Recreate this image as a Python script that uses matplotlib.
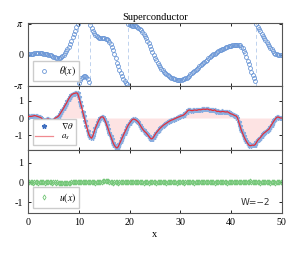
import numpy as np
import matplotlib
matplotlib.use("Agg")
import matplotlib.pyplot as plt

# data (x step 0.25)
# -------------------------------------------------------------------
x = np.arange(0, 50.001, 0.25)

theta = [
    0.05, 0.06, 0.08, 0.10, 0.12, 0.14, 0.16, 0.17, 0.18, 0.18, 0.17, 0.15, 0.12, 0.09, 0.06, 0.03, 0.00, -0.03, -0.07, -0.13,
    -0.20, -0.28, -0.34, -0.37, -0.37, -0.33, -0.26, -0.15, -0.01, 0.16, 0.36, 0.58, 0.82, 1.10, 1.42, 1.76, 2.10, 2.45, 2.80, 3.12,
    -2.90, -2.60, -2.40, -2.27, -2.20, -2.20, -2.30, -2.52, -2.82, 3.00, 2.68, 2.40, 2.18, 2.00, 1.86, 1.76, 1.70, 1.67, 1.66, 1.66,
    1.66, 1.64, 1.58, 1.47, 1.30, 1.06, 0.77, 0.44, 0.05, -0.37, -0.80, -1.20, -1.56, -1.88, -2.17, -2.43, -2.65, -2.84, -3.00, 3.12,
    3.05, 2.99, 2.96, 2.94, 2.91, 2.87, 2.82, 2.75, 2.64, 2.50, 2.33, 2.13, 1.91, 1.67, 1.42, 1.15, 0.86, 0.56, 0.26, -0.03,
    -0.31, -0.57, -0.81, -1.03, -1.23, -1.41, -1.58, -1.73, -1.87, -1.99, -2.10, -2.20, -2.29, -2.36, -2.42, -2.47, -2.51, -2.54, -2.56, -2.57,
    -2.57, -2.55, -2.52, -2.47, -2.41, -2.33, -2.23, -2.12, -2.01, -1.90, -1.79, -1.67, -1.55, -1.43, -1.31, -1.19, -1.07, -0.95, -0.83, -0.71,
    -0.60, -0.49, -0.38, -0.27, -0.17, -0.07, 0.03, 0.12, 0.20, 0.28, 0.36, 0.43, 0.50, 0.57, 0.63, 0.69, 0.74, 0.79, 0.84, 0.88,
    0.92, 0.95, 0.97, 0.99, 1.00, 1.01, 1.00, 0.94, 0.82, 0.65, 0.42, 0.13, -0.22, -0.60, -0.98, -1.37, -1.75, -2.10, -2.42, -2.72,
    3.12, 2.85, 2.60, 2.37, 2.15, 1.93, 1.72, 1.50, 1.30, 1.10, 0.90, 0.72, 0.55, 0.38, 0.22, 0.10, 0.03, 0.00, -0.01, -0.01,
    0.00,
]

grad_theta = [
    0.08, 0.10, 0.09, 0.10, 0.12, 0.14, 0.13, 0.10, 0.08, 0.05, 0.03, -0.05, -0.12, -0.16, -0.12, -0.06, -0.05, -0.10, -0.15, -0.16,
    -0.10, -0.03, 0.02, 0.06, 0.12, 0.22, 0.34, 0.46, 0.58, 0.72, 0.84, 0.98, 1.12, 1.24, 1.34, 1.40, 1.43, 1.45, 1.47, 1.44,
    1.22, 0.95, 0.68, 0.38, 0.10, -0.20, -0.48, -0.75, -0.98, -1.12, -1.18, -1.05, -0.82, -0.60, -0.42, -0.25, -0.10, 0.02, 0.07, 0.06,
    -0.05, -0.22, -0.42, -0.62, -0.85, -1.05, -1.25, -1.45, -1.60, -1.70, -1.75, -1.68, -1.52, -1.35, -1.18, -1.00, -0.85, -0.70, -0.55, -0.40,
    -0.30, -0.20, -0.10, -0.06, -0.08, -0.12, -0.18, -0.25, -0.38, -0.50, -0.62, -0.72, -0.80, -0.86, -0.95, -1.05, -1.15, -1.22, -1.20, -1.10,
    -0.98, -0.86, -0.78, -0.68, -0.60, -0.53, -0.46, -0.40, -0.35, -0.30, -0.25, -0.20, -0.16, -0.12, -0.10, -0.06, -0.03, 0.01, 0.04, 0.07,
    0.10, 0.13, 0.15, 0.20, 0.27, 0.35, 0.44, 0.47, 0.45, 0.43, 0.44, 0.47, 0.46, 0.45, 0.48, 0.49, 0.48, 0.50, 0.52, 0.51,
    0.50, 0.53, 0.51, 0.47, 0.49, 0.45, 0.44, 0.48, 0.42, 0.38, 0.40, 0.37, 0.36, 0.39, 0.38, 0.36, 0.35, 0.37, 0.33, 0.28,
    0.24, 0.22, 0.18, 0.14, 0.12, 0.02, -0.22, -0.48, -0.70, -0.88, -1.06, -1.22, -1.36, -1.48, -1.58, -1.62, -1.60, -1.58, -1.60, -1.55,
    -1.42, -1.30, -1.22, -1.15, -1.05, -0.95, -0.88, -0.82, -0.76, -0.70, -0.64, -0.50, -0.38, -0.26, -0.14, -0.04, 0.04, 0.06, 0.03, 0.00,
    0.00,
]
a_s = grad_theta  # supercurrent follows the phase gradient

u = [
    0.01, 0.02, 0.00, 0.01, -0.01, 0.01, 0.02, 0.00, -0.01, 0.01, 0.02, 0.01, 0.00, -0.01, 0.01, 0.00, 0.01, 0.02, 0.00, -0.01,
    0.00, 0.01, -0.01, 0.00, -0.02, -0.01, -0.03, -0.02, -0.03, -0.04, -0.05, -0.03, -0.02, -0.01, 0.00, 0.01, 0.02, 0.01, 0.02, 0.03,
    0.02, 0.03, 0.02, 0.01, 0.02, 0.03, 0.02, 0.01, 0.00, 0.01, 0.02, 0.01, 0.00, -0.01, 0.00, 0.01, 0.02, 0.03, 0.04, 0.05,
    0.06, 0.08, 0.07, 0.05, 0.03, 0.01, 0.00, -0.01, 0.00, 0.01, 0.00, -0.01, 0.01, 0.00, 0.01, 0.02, 0.01, 0.00, 0.02, 0.03,
    0.02, 0.01, 0.02, 0.03, 0.02, 0.01, 0.00, 0.01, 0.02, 0.01, 0.00, -0.01, 0.00, 0.01, 0.00, -0.01, 0.00, 0.01, 0.00, 0.01,
    0.00, -0.01, 0.00, 0.01, 0.02, 0.01, 0.00, 0.01, 0.00, -0.01, 0.00, 0.01, 0.00, 0.01, 0.02, 0.01, 0.00, -0.01, 0.00, 0.01,
    0.00, 0.01, 0.00, -0.01, 0.00, 0.01, 0.02, 0.01, 0.00, 0.01, 0.00, -0.01, 0.00, 0.01, 0.00, 0.01, 0.02, 0.01, 0.00, 0.01,
    0.02, 0.01, 0.00, 0.01, 0.02, 0.01, 0.00, -0.01, 0.00, 0.01, 0.00, 0.01, 0.02, 0.01, 0.00, 0.01, 0.00, -0.01, 0.00, 0.01,
    0.02, 0.01, 0.00, 0.01, 0.02, 0.01, 0.00, 0.01, 0.00, 0.01, 0.02, 0.01, 0.02, 0.03, 0.04, 0.05, 0.04, 0.03, 0.02, 0.01,
    0.00, 0.01, 0.00, -0.01, 0.00, 0.01, 0.00, 0.01, 0.02, 0.01, 0.00, -0.01, 0.00, 0.01, 0.00, -0.01, 0.00, 0.01, 0.00, 0.00,
    0.00,
]

x_ticks = [0, 10, 20, 30, 40, 50]
title = "Superconductor"
winding_label = "W=\u22122"

theta = np.array(theta)
grad_theta = np.array(grad_theta)
a_s = np.array(a_s)
u = np.array(u)

# phase slips: where the wrapped phase jumps by more than pi
jumps = np.where(np.abs(np.diff(theta)) > np.pi)[0]
x_jumps = (x[jumps] + x[jumps + 1]) / 2

# style
# -------------------------------------------------------------------
plt.rcParams["font.family"] = "serif"
plt.rcParams["font.serif"] = ["Liberation Serif", "DejaVu Serif"]
plt.rcParams["mathtext.fontset"] = "stix"
plt.rcParams["font.size"] = 7.2
plt.rcParams["xtick.direction"] = "in"
plt.rcParams["ytick.direction"] = "in"
plt.rcParams["xtick.top"] = True
plt.rcParams["ytick.right"] = True
plt.rcParams["xtick.major.size"] = 2.2
plt.rcParams["ytick.major.size"] = 2.2
plt.rcParams["xtick.major.width"] = 0.6
plt.rcParams["ytick.major.width"] = 0.6
plt.rcParams["axes.linewidth"] = 0.8
plt.rcParams["axes.edgecolor"] = "#555555"

blue = "#6a96d6"
red = "#e0303c"
green = "#72c676"

fig, axes = plt.subplots(3, 1, figsize=(2.87, 2.56), dpi=100, sharex=True)
fig.subplots_adjust(left=0.098, right=0.982, top=0.91, bottom=0.168, hspace=0)
ax1, ax2, ax3 = axes

# panel 1: phase
# -------------------------------------------------------------------
for xj in x_jumps:
    ax1.axvline(xj, color="#bfd2ee", ls=(0, (4, 3)), lw=0.7, zorder=1)
ax1.plot(x, theta, ls="none", marker="o", ms=2.8, mfc="none", mec=blue, mew=0.6,
         label=r"$\theta(x)$", zorder=2)
ax1.set_ylim(-np.pi - 0.08, np.pi + 0.08)
ax1.set_yticks([-np.pi, 0, np.pi])
ax1.set_yticklabels([r"-$\pi$", "0", r"$\pi$"])
ax1.set_title(title, fontsize=7.5, pad=2)
ax1.legend(loc="lower left", fontsize=7, fancybox=False, edgecolor="#cccccc",
           handlelength=1.5, borderpad=0.35, framealpha=1)

# panel 2: phase gradient and supercurrent
# -------------------------------------------------------------------
ax2.fill_between(x, a_s, 0, color="#fde3e3", lw=0, zorder=1)
ax2.plot(x, grad_theta, ls="none", marker="*", ms=3.4, color="#8aaee0",
         mec="#8aaee0", label=r"$\nabla\theta$", zorder=2)
ax2.plot(x, a_s, color=red, lw=0.9, label=r"$a_s$", zorder=3)
ax2.set_ylim(-1.85, 1.85)
ax2.set_yticks([-1, 0, 1])
ax2.set_yticklabels(["-1", "0", "1"])
leg2 = ax2.legend(loc="lower left", fontsize=6.5, fancybox=False, edgecolor="#cccccc",
                  handlelength=2.0, borderpad=0.3, labelspacing=0.2, framealpha=1)
leg2.get_lines()[0].set_color("#3f6fc0")
leg2.get_lines()[0].set_markeredgecolor("#3f6fc0")
leg2.get_lines()[1].set_color("#f08a90")

# panel 3: displacement
# -------------------------------------------------------------------
ax3.plot(x, u, ls="none", marker="d", ms=2.6, mfc="none", mec=green, mew=0.6,
         label=r"$u(x)$")
ax3.set_ylim(-1.55, 1.65)
ax3.set_yticks([-1, 0, 1])
ax3.set_yticklabels(["-1", "0", "1"])
ax3.legend(loc="lower left", fontsize=7, fancybox=False, edgecolor="#cccccc",
           handlelength=1.5, borderpad=0.35, framealpha=1)
ax3.text(0.955, 0.16, winding_label, transform=ax3.transAxes, ha="right",
         va="center", fontsize=6.5, family="DejaVu Sans", color="#333333")

ax3.set_xlim(0, 50)
ax3.set_xticks(x_ticks)
ax3.set_xlabel("x", fontsize=7.5, labelpad=2)

plt.savefig("out.png", dpi=100)
